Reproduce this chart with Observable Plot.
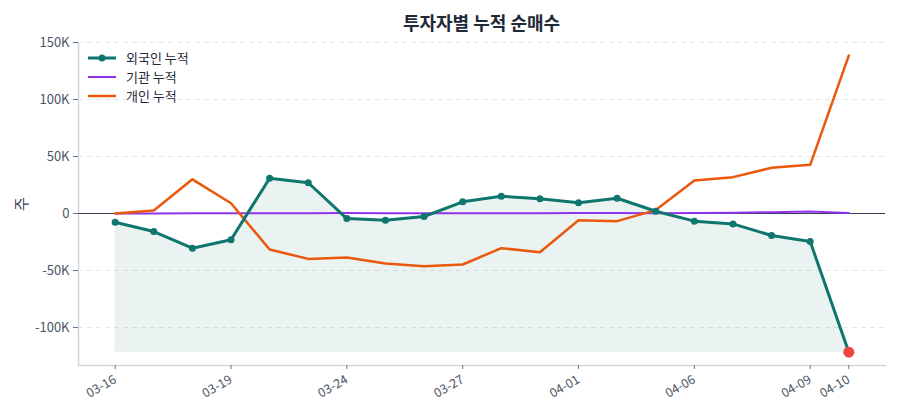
<!DOCTYPE html>
<html>
<head>
<meta charset="utf-8">
<script src="https://cdn.jsdelivr.net/npm/d3@7"></script>
<script src="https://cdn.jsdelivr.net/npm/@observablehq/plot@0.6"></script>
<style>
  body { margin: 0; background: #fff; font-family: "Noto Sans CJK KR", "Noto Sans", sans-serif; }
  #wrap { position: relative; width: 900px; height: 420px; }
  #title { box-sizing: border-box; width: 900px; height: 30px; padding: 4px 15px 0 78px; line-height: 36px;
           text-align: center; font-size: 18px; font-weight: 700; color: #1f2937; overflow: visible; }
  #legend { position: absolute; left: 88px; top: 48px; font-size: 13px; color: #1f2937; }
  .row { display: flex; align-items: center; height: 19px; }
  .row svg { margin-right: 10px; }
</style>
</head>
<body>
<div id="wrap">
  <div id="title">투자자별 누적 순매수</div>
  <div id="chart"></div>
  <div id="legend"></div>
</div>
<script>
// Trading days (MM-DD)
const dates = ["03-16","03-17","03-18","03-19","03-20","03-23","03-24","03-25","03-26","03-27",
               "03-30","03-31","04-01","04-02","04-03","04-06","04-07","04-08","04-09","04-10"];
// Cumulative net buying (주) by investor type
const foreign     = [-7600,-15800,-30400,-23000,31000,27000,-4400,-5900,-2600,10300,
                     15200,12900,9400,13400,2000,-6700,-9100,-19300,-24600,-121600];
const institution = [0,100,200,300,200,300,400,300,200,300,
                     200,300,400,500,300,400,600,1200,1800,400];
const individual  = [0,2600,30000,9000,-31600,-39800,-38600,-43900,-46200,-44700,
                     -30400,-33900,-5900,-6700,3000,28900,31900,40100,42700,138600];
const xTicks = ["03-16","03-19","03-24","03-27","04-01","04-06","04-09","04-10"];
const yTicks = [-100000,-50000,0,50000,100000,150000];
const seriesNames = ["외국인 누적","기관 누적","개인 누적"];
const colors = { foreign: "#0f766e", institution: "#9333ea", individual: "#ea580c", last: "#ef4444" };

const rows = dates.map((d, i) => ({ date: d, foreign: foreign[i], institution: institution[i], individual: individual[i] }));
const floor = d3.min(foreign);
const lastRow = rows[rows.length - 1];

const fmt = v => v === 0 ? "0" : (v / 1000) + "K";

const chart = Plot.plot({
  width: 900,
  height: 390,
  marginLeft: 78,
  marginRight: 15,
  marginTop: 12,
  marginBottom: 55,
  style: { fontFamily: "'Noto Sans CJK KR', 'Noto Sans', sans-serif", fontSize: "13px", color: "#4b5563", background: "#fff" },
  x: { type: "point", domain: dates, padding: 0.95, round: false },
  y: { domain: [-133300, 150000] },
  marks: [
    Plot.gridY(yTicks.filter(v => v !== 0), { stroke: "#e5e7eb", strokeOpacity: 1, strokeDasharray: "5,4" }),
    Plot.frame({ anchor: "left", stroke: "#d1d5db", strokeWidth: 1.5 }),
    Plot.frame({ anchor: "bottom", stroke: "#d1d5db", strokeWidth: 1.5 }),
    Plot.axisY(yTicks, { tickFormat: fmt, tickSize: 5, tickPadding: 4, stroke: "#6b7280", fill: "#4b5563", fontSize: 13,
      label: "주", labelAnchor: "center", labelArrow: "none", labelOffset: 62 }),
    Plot.axisX(xTicks, { tickSize: 4, tickRotate: -30, tickPadding: 9, stroke: "#6b7280", fill: "#4b5563", fontSize: 12.5, label: null }),
    Plot.areaY(rows, { x: "date", y1: floor, y2: "foreign", fill: colors.foreign, fillOpacity: 0.085, curve: "linear" }),
    Plot.ruleY([0], { stroke: "#374151", strokeWidth: 1.2 }),
    Plot.lineY(rows, { x: "date", y: "institution", stroke: colors.institution, strokeWidth: 2 }),
    Plot.lineY(rows, { x: "date", y: "individual", stroke: colors.individual, strokeWidth: 2.5 }),
    Plot.lineY(rows, { x: "date", y: "foreign", stroke: colors.foreign, strokeWidth: 3 }),
    Plot.dot(rows, { x: "date", y: "foreign", r: 3.5, fill: colors.foreign }),
    Plot.dot([lastRow], { x: "date", y: "foreign", r: 5.5, fill: colors.last })
  ]
});
// Larger, darker y-axis title
d3.select(chart).selectAll("[aria-label='y-axis label'] text, [aria-label='y-axis label']")
  .style("font-size", "15px").attr("fill", "#374151");
document.getElementById("chart").appendChild(chart);

// Legend
const legend = d3.select("#legend");
const swatches = [
  { name: seriesNames[0], color: colors.foreign, width: 3, dot: true },
  { name: seriesNames[1], color: colors.institution, width: 2, dot: false },
  { name: seriesNames[2], color: colors.individual, width: 2.5, dot: false }
];
swatches.forEach(s => {
  const row = legend.append("div").attr("class", "row");
  const sv = row.append("svg").attr("width", 28).attr("height", 10);
  sv.append("line").attr("x1", 0).attr("x2", 28).attr("y1", 5).attr("y2", 5)
    .attr("stroke", s.color).attr("stroke-width", s.width);
  if (s.dot) sv.append("circle").attr("cx", 14).attr("cy", 5).attr("r", 3.5).attr("fill", s.color);
  row.append("span").text(s.name);
});
</script>
</body>
</html>
